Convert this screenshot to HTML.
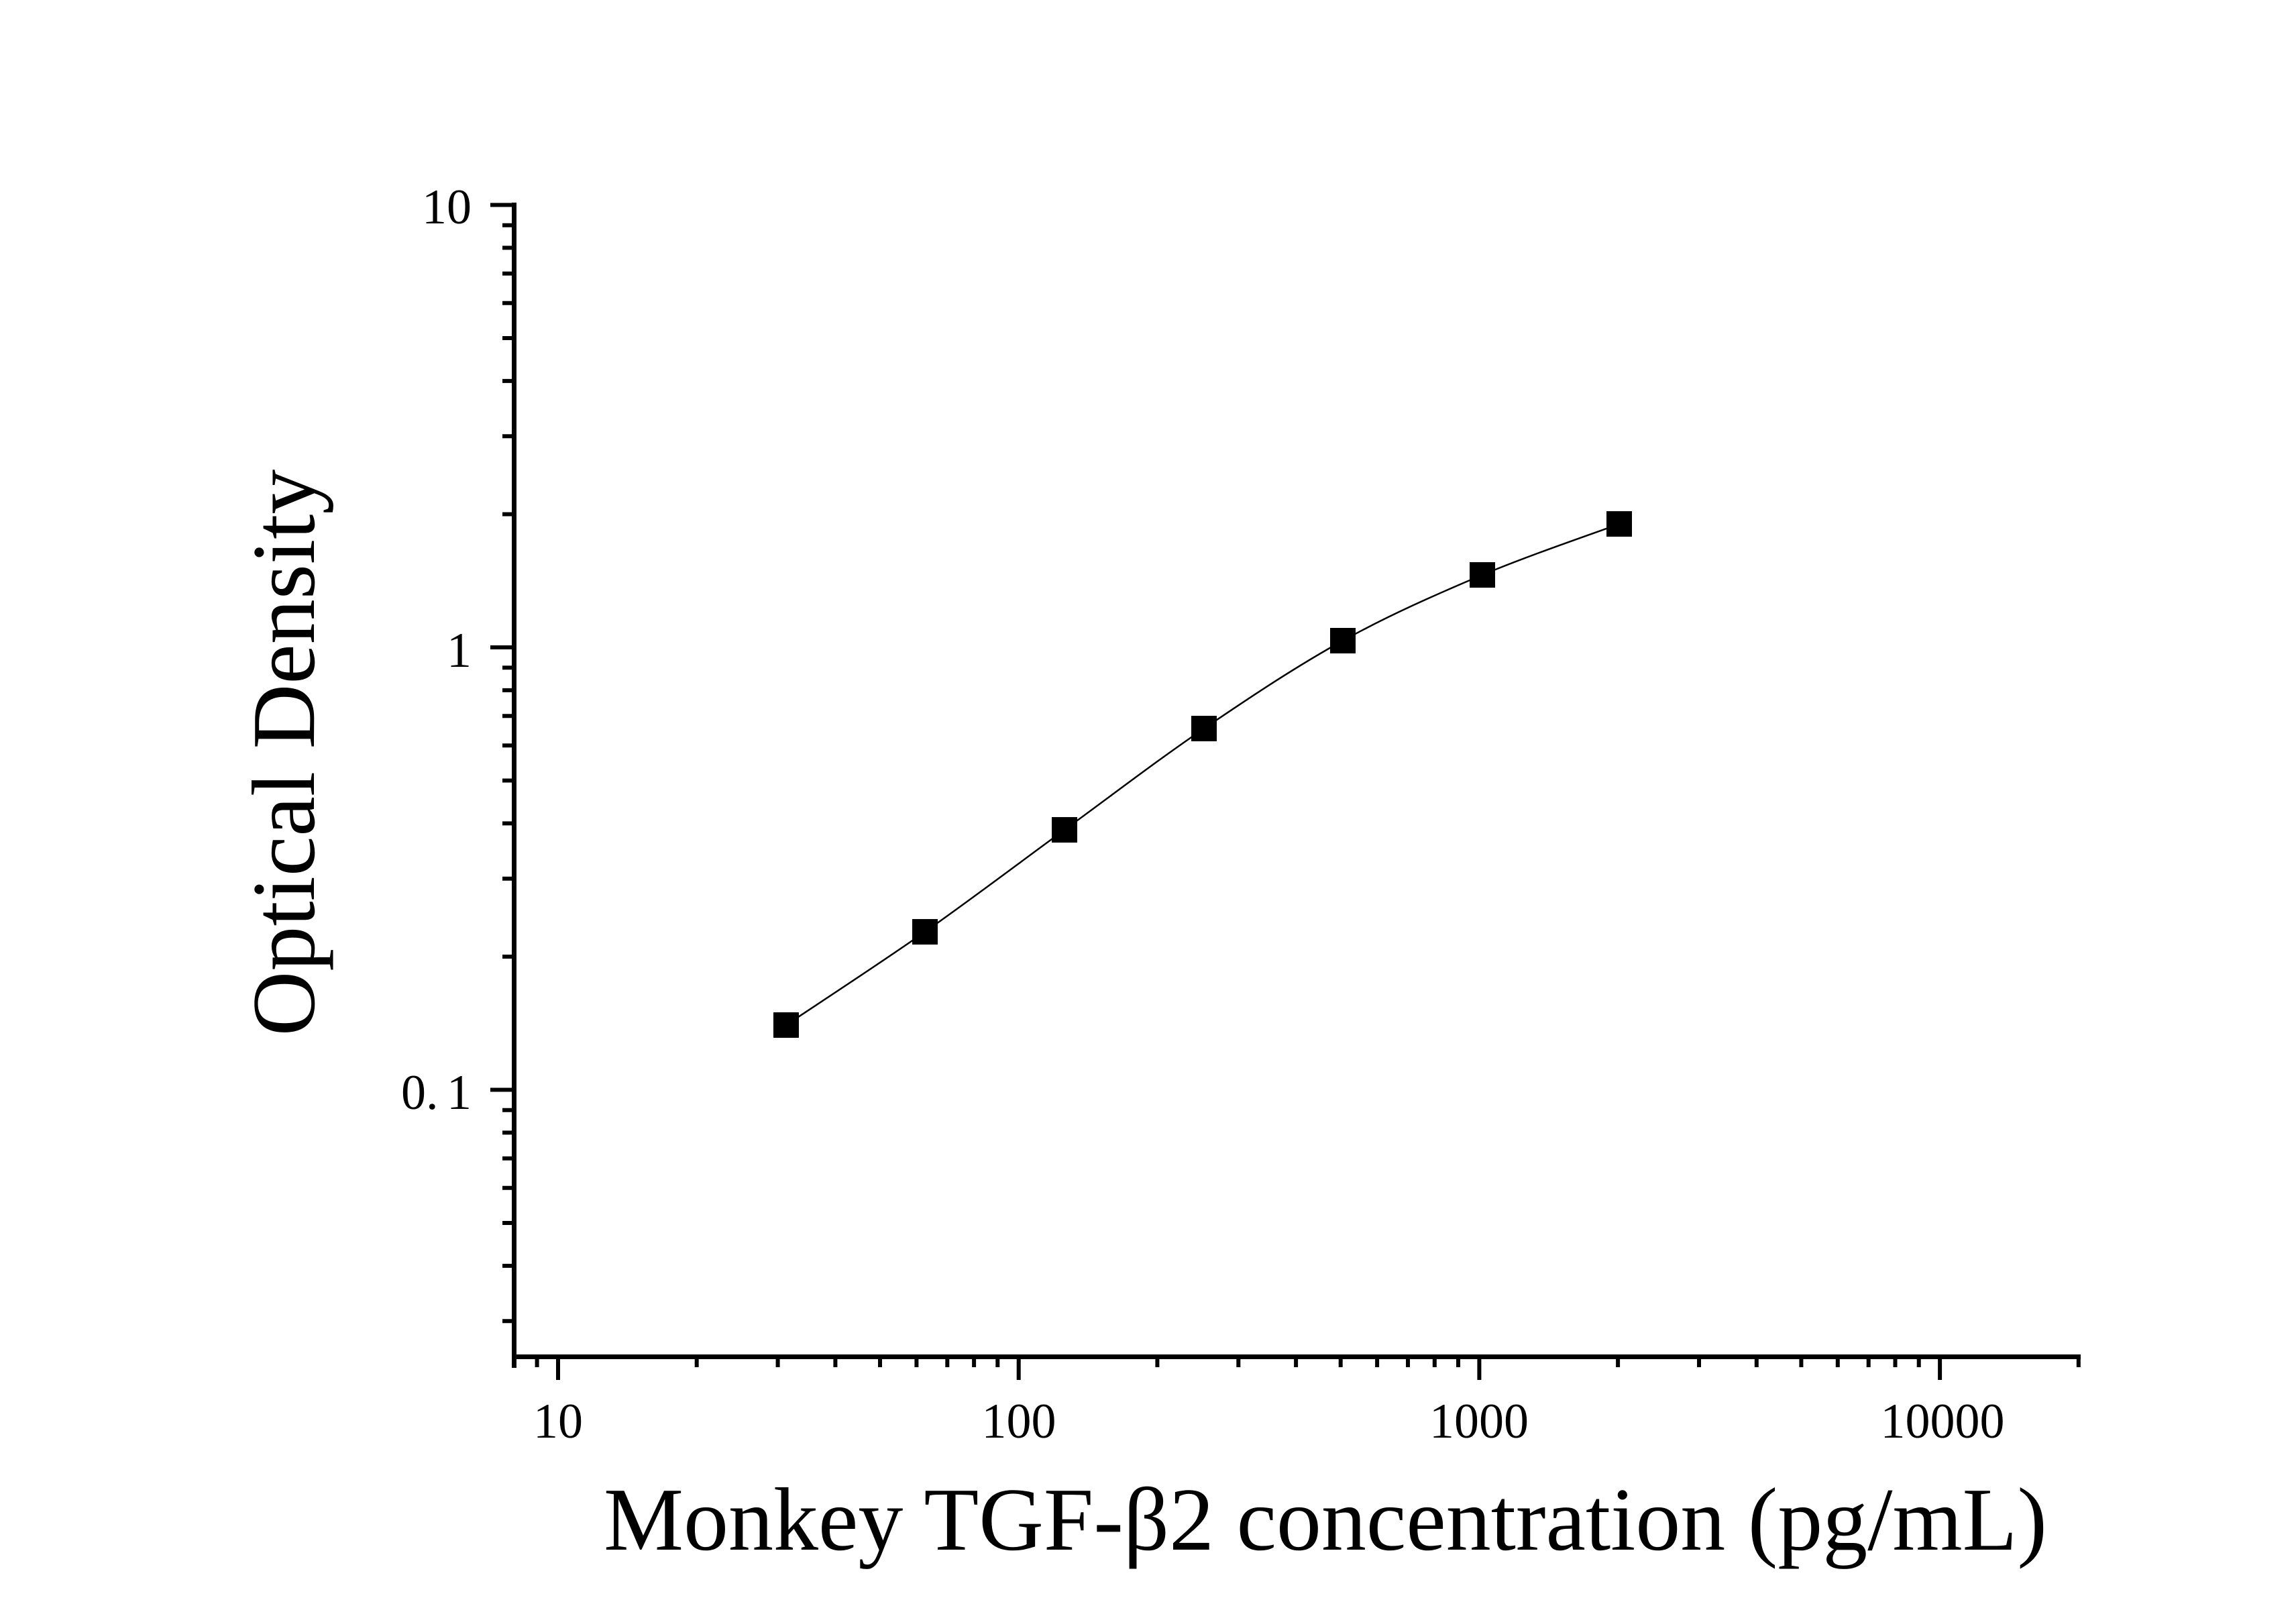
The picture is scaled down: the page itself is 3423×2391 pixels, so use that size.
<!DOCTYPE html>
<html><head><meta charset="utf-8"><style>html,body{margin:0;padding:0;background:#fff}svg{display:block}</style></head>
<body>
<svg width="3423" height="2391" viewBox="0 0 3423 2391" xmlns="http://www.w3.org/2000/svg">
<rect width="3423" height="2391" fill="#fff"/>
<g stroke="#000" stroke-width="7" fill="none">
<line x1="766.5" y1="302" x2="766.5" y2="2039"/>
<line x1="763" y1="2022.5" x2="3102" y2="2022.5"/>
</g>
<g stroke="#000" stroke-width="6">
<line x1="731" y1="305.5" x2="766" y2="305.5"/>
<line x1="731" y1="965" x2="766" y2="965"/>
<line x1="731" y1="1624.5" x2="766" y2="1624.5"/>
<g>
<line x1="749" y1="335.7" x2="766" y2="335.7"/><line x1="749" y1="369.4" x2="766" y2="369.4"/><line x1="749" y1="407.7" x2="766" y2="407.7"/><line x1="749" y1="451.8" x2="766" y2="451.8"/><line x1="749" y1="504" x2="766" y2="504"/><line x1="749" y1="567.9" x2="766" y2="567.9"/><line x1="749" y1="650.3" x2="766" y2="650.3"/><line x1="749" y1="766.5" x2="766" y2="766.5"/>
<line x1="749" y1="995.2" x2="766" y2="995.2"/><line x1="749" y1="1028.9" x2="766" y2="1028.9"/><line x1="749" y1="1067.2" x2="766" y2="1067.2"/><line x1="749" y1="1111.3" x2="766" y2="1111.3"/><line x1="749" y1="1163.5" x2="766" y2="1163.5"/><line x1="749" y1="1227.4" x2="766" y2="1227.4"/><line x1="749" y1="1309.8" x2="766" y2="1309.8"/><line x1="749" y1="1426" x2="766" y2="1426"/>
<line x1="749" y1="1654.7" x2="766" y2="1654.7"/><line x1="749" y1="1688.4" x2="766" y2="1688.4"/><line x1="749" y1="1726.7" x2="766" y2="1726.7"/><line x1="749" y1="1770.8" x2="766" y2="1770.8"/><line x1="749" y1="1823" x2="766" y2="1823"/><line x1="749" y1="1886.9" x2="766" y2="1886.9"/><line x1="749" y1="1969.3" x2="766" y2="1969.3"/>
</g>
<line x1="832" y1="2022" x2="832" y2="2057"/>
<line x1="1518.7" y1="2022" x2="1518.7" y2="2057"/>
<line x1="2205.4" y1="2022" x2="2205.4" y2="2057"/>
<line x1="2892.1" y1="2022" x2="2892.1" y2="2057"/>
<g>
<line x1="800.6" y1="2022" x2="800.6" y2="2038"/>
<line x1="1038.7" y1="2022" x2="1038.7" y2="2038"/><line x1="1159.6" y1="2022" x2="1159.6" y2="2038"/><line x1="1245.4" y1="2022" x2="1245.4" y2="2038"/><line x1="1312" y1="2022" x2="1312" y2="2038"/><line x1="1366.4" y1="2022" x2="1366.4" y2="2038"/><line x1="1412.3" y1="2022" x2="1412.3" y2="2038"/><line x1="1452.1" y1="2022" x2="1452.1" y2="2038"/><line x1="1487.3" y1="2022" x2="1487.3" y2="2038"/>
<line x1="1725.4" y1="2022" x2="1725.4" y2="2038"/><line x1="1846.3" y1="2022" x2="1846.3" y2="2038"/><line x1="1932.1" y1="2022" x2="1932.1" y2="2038"/><line x1="1998.7" y1="2022" x2="1998.7" y2="2038"/><line x1="2053.1" y1="2022" x2="2053.1" y2="2038"/><line x1="2099" y1="2022" x2="2099" y2="2038"/><line x1="2138.8" y1="2022" x2="2138.8" y2="2038"/><line x1="2174" y1="2022" x2="2174" y2="2038"/>
<line x1="2412.1" y1="2022" x2="2412.1" y2="2038"/><line x1="2533" y1="2022" x2="2533" y2="2038"/><line x1="2618.8" y1="2022" x2="2618.8" y2="2038"/><line x1="2685.4" y1="2022" x2="2685.4" y2="2038"/><line x1="2739.8" y1="2022" x2="2739.8" y2="2038"/><line x1="2785.7" y1="2022" x2="2785.7" y2="2038"/><line x1="2825.5" y1="2022" x2="2825.5" y2="2038"/><line x1="2860.7" y1="2022" x2="2860.7" y2="2038"/>
<line x1="3098.8" y1="2022" x2="3098.8" y2="2038"/>
</g>
</g>
<path d="M1172,1528 C1206.5,1504.8 1309.8,1437.5 1379,1389 C1448.2,1340.5 1517.7,1287.5 1587,1237 C1656.3,1186.5 1725.8,1133 1795,1086 C1864.2,1039 1932.8,993.2 2002,955 C2071.2,916.8 2141.3,886 2210,857 C2278.7,828 2380,793.7 2414,781" fill="none" stroke="#000" stroke-width="2.5"/>
<g fill="#000">
<rect x="1153" y="1509" width="38" height="38"/>
<rect x="1360" y="1370" width="38" height="38"/>
<rect x="1568" y="1218" width="38" height="38"/>
<rect x="1776" y="1067" width="38" height="38"/>
<rect x="1983" y="936" width="38" height="38"/>
<rect x="2191" y="838" width="38" height="38"/>
<rect x="2395" y="762" width="38" height="38"/>
</g>
<g font-family="Liberation Serif, serif" fill="#000" font-size="74">
<text x="703" y="333" text-anchor="end">10</text>
<text x="703" y="994" text-anchor="end">1</text>
<text x="598" y="1653">0.</text>
<text x="703" y="1653" text-anchor="end">1</text>
<text x="832" y="2143" text-anchor="middle">10</text>
<text x="1519" y="2143" text-anchor="middle">100</text>
<text x="2205" y="2143" text-anchor="middle">1000</text>
<text x="2896" y="2143" text-anchor="middle">10000</text>
</g>
<text x="900" y="2310" font-family="Liberation Serif, serif" font-size="134" textLength="2152" lengthAdjust="spacingAndGlyphs">Monkey TGF-β2 concentration (pg/mL)</text>
<text transform="translate(468,1122) rotate(-90)" text-anchor="middle" font-family="Liberation Serif, serif" font-size="134">Optical Density</text>
</svg>
</body></html>
